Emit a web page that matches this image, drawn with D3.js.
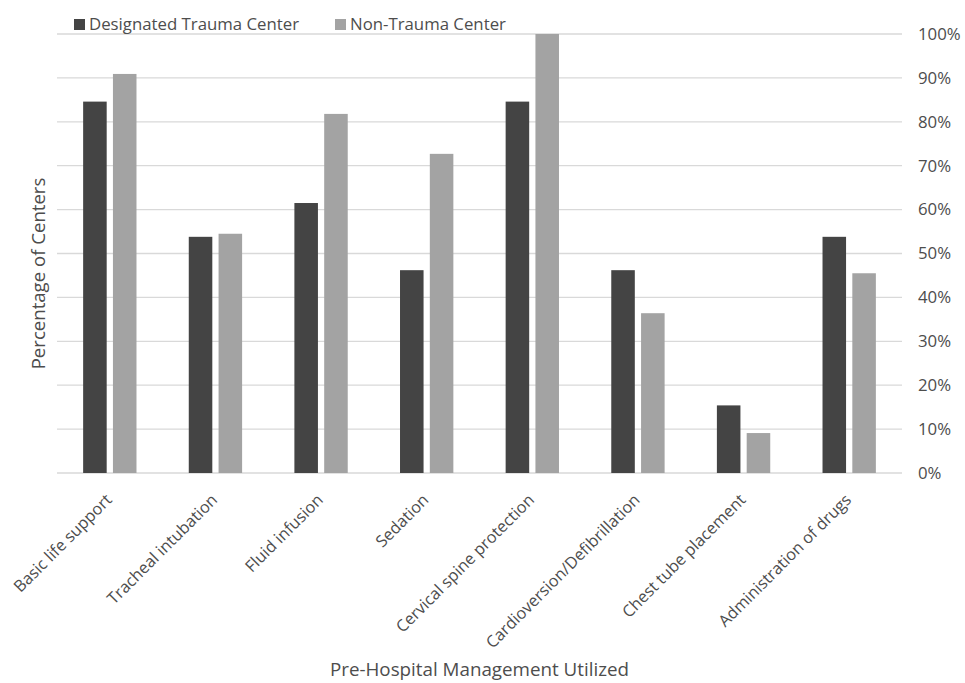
<!DOCTYPE html>
<html>
<head>
<meta charset="utf-8">
<script src="https://cdn.jsdelivr.net/npm/d3@7"></script>
<style>
    body { margin: 0; background: #fff; }
    text { font-family: "Open Sans", sans-serif; fill: #4d4d4d; }
</style>
</head>
<body>
<div id="chart"></div>
<script>
// Data
const categories = ["Basic life support", "Tracheal intubation", "Fluid infusion", "Sedation",
    "Cervical spine protection", "Cardioversion/Defibrillation", "Chest tube placement", "Administration of drugs"];
const seriesNames = ["Designated Trauma Center", "Non-Trauma Center"];
const traumaValues = [84.6, 53.8, 61.5, 46.2, 84.6, 46.2, 15.4, 53.8];
const nonTraumaValues = [90.9, 54.5, 81.8, 72.7, 100, 36.4, 9.1, 45.5];
const yTicks = [0, 10, 20, 30, 40, 50, 60, 70, 80, 90, 100];
const colors = ["#444444", "#a3a3a3"];

const rows = categories.map((c, i) => ({ cat: c, values: [traumaValues[i], nonTraumaValues[i]] }));

const W = 965, H = 683;
const margin = { top: 34, right: 63, bottom: 210, left: 57 };
const width = W - margin.left - margin.right;
const height = H - margin.top - margin.bottom;

const svg = d3.select("#chart").append("svg")
    .attr("width", W)
    .attr("height", H)
    .style("display", "block");

const g = svg.append("g")
    .attr("transform", `translate(${margin.left},${margin.top})`);

// Scales
const x0 = d3.scaleBand().domain(categories).range([0, width]).padding(0);
const pairW = x0.bandwidth() * 0.505;
const x1 = d3.scaleBand().domain([0, 1])
    .range([(x0.bandwidth() - pairW) / 2, (x0.bandwidth() + pairW) / 2])
    .paddingInner(0.21).paddingOuter(0);
const y = d3.scaleLinear().domain([0, 100]).range([height, 0]);

// Gridlines
g.selectAll(".grid")
    .data(yTicks)
    .join("line")
    .attr("class", "grid")
    .attr("x1", 0)
    .attr("x2", width)
    .attr("y1", d => y(d))
    .attr("y2", d => y(d))
    .attr("stroke", "#d9d9d9")
    .attr("stroke-width", 1.3);

// Right axis labels
const yAxis = d3.axisRight(y).tickValues(yTicks).tickFormat(d => d + "%").tickSize(0).tickPadding(16);
const yg = g.append("g").attr("transform", `translate(${width},0)`).call(yAxis);
yg.select(".domain").remove();
yg.selectAll("text").style("font-size", "16.8px").attr("fill", "#4d4d4d");

// Bars
const groups = g.selectAll(".group")
    .data(rows)
    .join("g")
    .attr("class", "group")
    .attr("transform", d => `translate(${x0(d.cat)},0)`);

groups.selectAll("rect")
    .data(d => d.values.map((v, i) => ({ i, v })))
    .join("rect")
    .attr("x", d => x1(d.i))
    .attr("width", x1.bandwidth())
    .attr("y", d => y(d.v))
    .attr("height", d => y(0) - y(d.v))
    .attr("fill", d => colors[d.i]);

// Category labels
g.selectAll(".cat")
    .data(categories)
    .join("text")
    .attr("class", "cat")
    .attr("transform", d => `translate(${x0(d) + x0.bandwidth() / 2 + 3},${height + 28}) rotate(-45)`)
    .attr("text-anchor", "end")
    .style("font-size", "16.3px")
    .text(d => d);

// Axis titles
svg.append("text")
    .attr("transform", `translate(45,${margin.top + height / 2 + 20}) rotate(-90)`)
    .attr("text-anchor", "middle")
    .style("font-size", "18.6px")
    .text("Percentage of Centers");

svg.append("text")
    .attr("x", margin.left + width / 2)
    .attr("y", 676)
    .attr("text-anchor", "middle")
    .style("font-size", "18.8px")
    .text("Pre-Hospital Management Utilized");

// Legend
const legendX = [74, 335];
const legend = svg.selectAll(".legend")
    .data(seriesNames)
    .join("g")
    .attr("class", "legend")
    .attr("transform", (d, i) => `translate(${legendX[i]},16)`);

legend.append("rect")
    .attr("y", 3)
    .attr("width", 11)
    .attr("height", 11)
    .attr("fill", (d, i) => colors[i]);

legend.append("text")
    .attr("x", 15)
    .attr("y", 14)
    .style("font-size", "16.8px")
    .text(d => d);
</script>
</body>
</html>
